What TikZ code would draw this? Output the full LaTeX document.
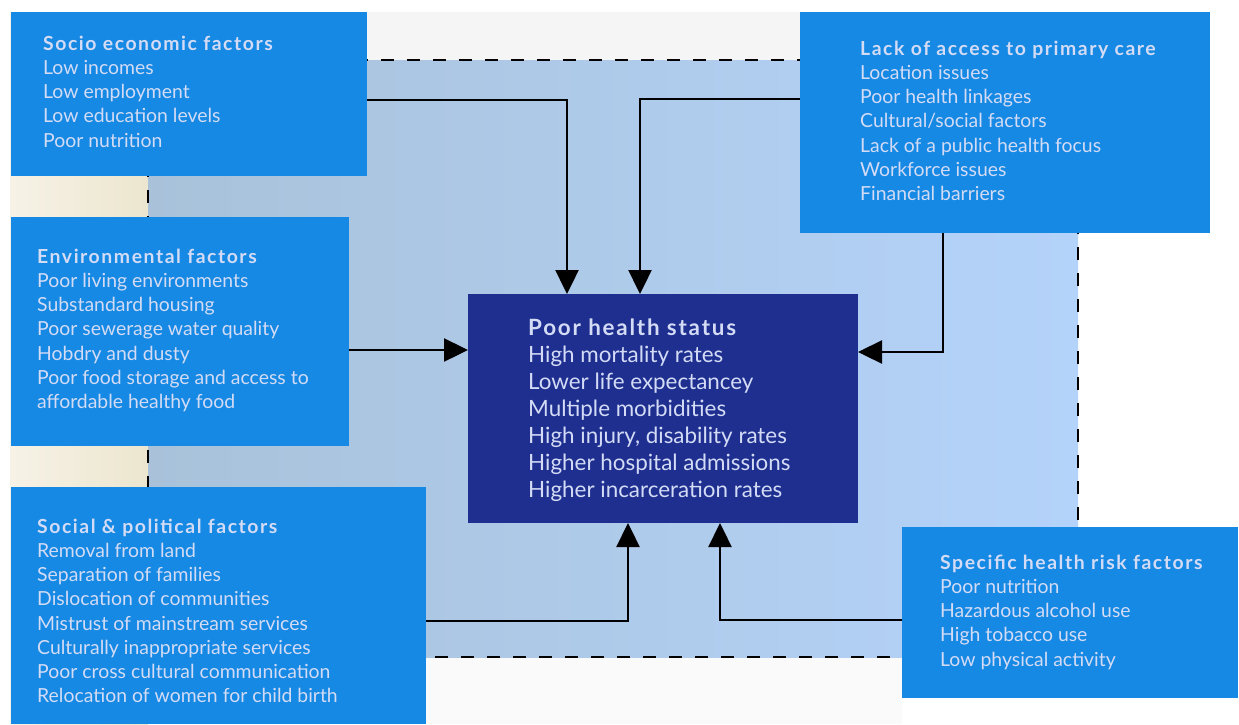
\documentclass[tikz,border=0pt]{standalone}
\usepackage{fontspec}
\setmainfont{Lato}
\newfontfamily\ttlfont{Lato}[LetterSpace=8]
\usetikzlibrary{arrows.meta}
\definecolor{boxblue}{HTML}{1589E3}
\definecolor{navy}{HTML}{1E2F8F}
\definecolor{txt}{HTML}{D3DBF6}
\definecolor{bgL}{HTML}{A9C2DA}
\definecolor{bgR}{HTML}{B4D3FA}
\definecolor{creamA}{HTML}{F6F2E6}
\definecolor{creamB}{HTML}{ECE6CF}
\newcommand{\ttl}[1]{\strut{\ttlfont\bfseries #1}}
\tikzset{
  box/.style={fill=boxblue, draw=none, anchor=north west, inner sep=0pt, outer sep=0pt},
  core/.style={fill=navy, draw=none, anchor=north west, inner sep=0pt, outer sep=0pt},
  lbl/.style={anchor=north west, inner sep=0pt, align=left, text=txt, font=\fontsize{19.4}{24.2}\selectfont},
  clbl/.style={anchor=north west, inner sep=0pt, align=left, text=txt, font=\fontsize{22.4}{27}\selectfont},
  arr/.style={line width=2.4pt, -{Triangle[length=24pt,width=23pt]}}
}
\begin{document}
\begin{tikzpicture}[x=1pt,y=-1pt]
\useasboundingbox (0,0) rectangle (1239,724);
\fill[white] (0,0) rectangle (1239,724);
% background
\shade[left color=creamA, right color=creamB] (10,12) rectangle (148,724);
\fill[black!4] (148,12) rectangle (1210,60);
\fill[black!2] (148,657) rectangle (902,724);
\shade[left color=bgL, right color=bgR] (148,60) rectangle (1078,657);
\draw[line width=2.4pt, dash pattern=on 13pt off 13pt] (148,60) rectangle (1078,657);
% boxes
\node[box, minimum width=356pt, minimum height=164pt] (soc) at (11,12) {};
\node[box, minimum width=410pt, minimum height=221pt] (acc) at (800,12) {};
\node[box, minimum width=338pt, minimum height=229pt] (env) at (11,217) {};
\node[box, minimum width=415pt, minimum height=237pt] (pol) at (11,487) {};
\node[box, minimum width=336pt, minimum height=171pt] (risk) at (902,527) {};
\node[core, minimum width=390pt, minimum height=229pt] (poor) at (468,294) {};
% texts
\node[lbl] (tsoc) at (43,33.2) {\ttl{Socio economic factors}\\Low incomes\\Low employment\\Low education levels\\Poor nutrition};
\node[lbl] (tacc) at (860,38.2) {\ttl{Lack of access to primary care}\\Location issues\\Poor health linkages\\Cultural/social factors\\Lack of a public health focus\\Workforce issues\\Financial barriers};
\node[lbl] (tenv) at (37,246.2) {\ttl{Environmental factors}\\Poor living environments\\Substandard housing\\Poor sewerage water quality\\Hobdry and dusty\\Poor food storage and access to\\affordable healthy food};
\node[lbl] (tpol) at (37,516.2) {\ttl{Social \& political factors}\\Removal from land\\Separation of families\\Dislocation of communities\\Mistrust of mainstream services\\Culturally inappropriate services\\Poor cross cultural communication\\Relocation of women for child birth};
\node[lbl] (trisk) at (940,552.2) {\ttl{Specific health risk factors}\\Poor nutrition\\Hazardous alcohol use\\High tobacco use\\Low physical activity};
\node[clbl] (tpoor) at (528,316.1) {\ttl{Poor health status}\\High mortality rates\\Lower life expectancey\\Multiple morbidities\\High injury, disability rates\\Higher hospital admissions\\Higher incarceration rates};
% connectors
\draw[arr] ([yshift=-6pt]soc.east) -| ([xshift=-96pt]poor.north);
\draw[arr] ([yshift=23.5pt]acc.west) -| ([xshift=-23pt]poor.north);
\draw[arr] ([xshift=-62pt]acc.south) |- ([yshift=56.5pt]poor.east);
\draw[arr] ([yshift=-18.5pt]env.east) -- ([yshift=58.5pt]poor.west);
\draw[arr] ([yshift=-15.5pt]pol.east) -| ([xshift=-35pt]poor.south);
\draw[arr] ([yshift=-7.5pt]risk.west) -| ([xshift=57pt]poor.south);
\end{tikzpicture}
\end{document}
